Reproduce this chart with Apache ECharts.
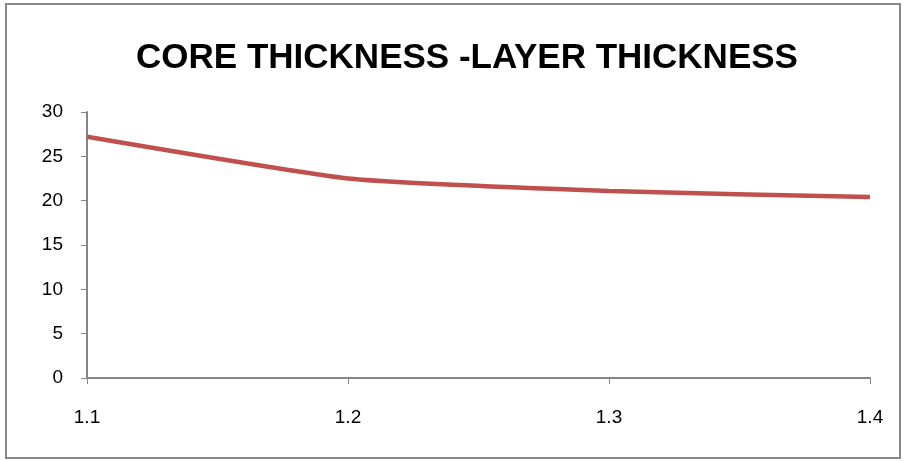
<!DOCTYPE html>
<html><head><meta charset="utf-8">
<script src="https://cdn.jsdelivr.net/npm/echarts@6/dist/echarts.min.js"></script>
<style>html,body{margin:0;padding:0;background:#fff}#c{width:906px;height:461px}</style>
</head><body><div id="c"></div>
<script>
const titleText = 'CORE THICKNESS -LAYER THICKNESS';
const categories = ['1.1', '1.2', '1.3', '1.4'];
const coreValues = [27.2, 22.5, 21.1, 20.4];
const yTicks = [0, 5, 10, 15, 20, 25, 30];

const chart = echarts.init(document.getElementById('c'), null, {renderer: 'canvas'});
const font = '"Liberation Sans", sans-serif';
chart.setOption({
  animation: false,
  backgroundColor: '#fff',
  graphic: [{
    type: 'rect', shape: {x: 6, y: 4, width: 894, height: 454},
    style: {fill: 'none', stroke: '#888', lineWidth: 2}, silent: true
  }],
  title: {
    text: titleText, left: 462, top: 36, textAlign: 'center',
    textStyle: {fontFamily: font, fontWeight: 'bold', fontSize: 35, color: '#000'}
  },
  grid: {left: 87, right: 36, top: 112, bottom: 83, containLabel: false},
  xAxis: {
    type: 'category', data: categories, boundaryGap: false,
    axisLine: {lineStyle: {color: '#868686', width: 2}},
    axisTick: {show: true, alignWithLabel: true, length: 6, lineStyle: {color: '#868686', width: 1}},
    axisLabel: {fontFamily: font, fontSize: 19, color: '#000', margin: 30}
  },
  yAxis: {
    type: 'value', min: yTicks[0], max: yTicks[yTicks.length - 1], interval: 5,
    axisLine: {show: true, lineStyle: {color: '#868686', width: 2}},
    axisTick: {show: true, length: 6, lineStyle: {color: '#868686', width: 1}},
    splitLine: {show: false},
    axisLabel: {fontFamily: font, fontSize: 19, color: '#000', margin: 24}
  },
  series: [{
    type: 'line', data: coreValues, smooth: 0.15, symbol: 'none',
    lineStyle: {color: '#C0504D', width: 4.5}
  }]
});
</script></body></html>
